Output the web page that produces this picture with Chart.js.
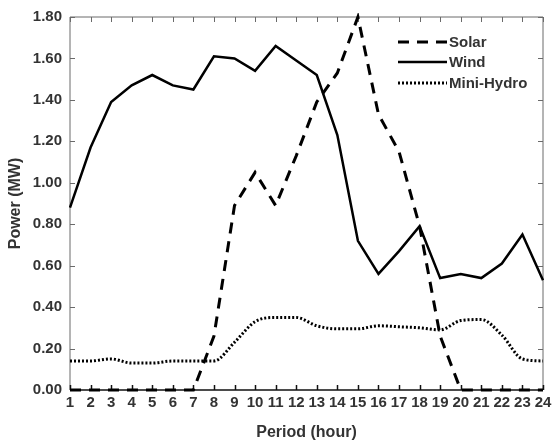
<!DOCTYPE html>
<html>
<head>
<meta charset="utf-8">
<script src="https://cdn.jsdelivr.net/npm/chart.js@4.4.1/dist/chart.umd.min.js"></script>
<style>
  html, body { margin: 0; padding: 0; background: #fff; }
  #wrap { width: 558px; height: 445px; position: relative; }
</style>
</head>
<body>
<div id="wrap"><canvas id="chart"></canvas></div>
<script>
// hourly periods
const periods = ['1','2','3','4','5','6','7','8','9','10','11','12','13','14','15','16','17','18','19','20','21','22','23','24'];

// power output (MW)
const solar = [0, 0, 0, 0, 0, 0, 0, 0.26, 0.89, 1.05, 0.89, 1.13, 1.39, 1.53, 1.80, 1.33, 1.15, 0.79, 0.26, 0, 0, 0, 0, 0];
const wind = [0.88, 1.17, 1.39, 1.47, 1.52, 1.47, 1.45, 1.61, 1.60, 1.54, 1.66, 1.59, 1.52, 1.23, 0.72, 0.56, 0.67, 0.79, 0.54, 0.56, 0.54, 0.61, 0.75, 0.53];
const miniHydro = [0.14, 0.14, 0.15, 0.13, 0.13, 0.14, 0.14, 0.14, 0.23, 0.33, 0.35, 0.35, 0.31, 0.295, 0.295, 0.31, 0.305, 0.30, 0.29, 0.335, 0.34, 0.265, 0.15, 0.14];

const FONT = 'Liberation Sans, Arial, sans-serif';
const TEXT = '#333';

// frame + inward tick marks on all four sides
const frameTicks = {
  id: 'frameTicks',
  beforeDatasetsDraw(chart) {
    const { ctx, chartArea: a, scales: { x, y } } = chart;
    const len = 5;
    ctx.save();
    ctx.lineWidth = 1;
    ctx.strokeStyle = '#6a6a6a';
    ctx.beginPath();
    ctx.moveTo(a.left, a.bottom);
    ctx.lineTo(a.left, a.top);
    ctx.lineTo(a.right, a.top);
    ctx.lineTo(a.right, a.bottom);
    x.ticks.forEach((t, i) => {
      const px = Math.round(x.getPixelForTick(i)) + 0.5;
      ctx.moveTo(px, a.top); ctx.lineTo(px, a.top + len);
    });
    y.ticks.forEach((t, i) => {
      const py = Math.round(y.getPixelForTick(i)) + 0.5;
      ctx.moveTo(a.right, py); ctx.lineTo(a.right - len, py);
      ctx.moveTo(a.left, py); ctx.lineTo(a.left + len, py);
    });
    ctx.stroke();
    // bottom axis darker
    ctx.strokeStyle = '#111';
    ctx.lineWidth = 1.5;
    ctx.beginPath();
    ctx.moveTo(a.left, a.bottom);
    ctx.lineTo(a.right, a.bottom);
    x.ticks.forEach((t, i) => {
      const px = Math.round(x.getPixelForTick(i)) + 0.5;
      ctx.moveTo(px, a.bottom); ctx.lineTo(px, a.bottom - len);
    });
    ctx.stroke();
    ctx.restore();
  }
};

// legend in the upper right of the plot
const insideLegend = {
  id: 'insideLegend',
  afterDraw(chart) {
    const { ctx, chartArea: a } = chart;
    const x0 = a.right - 145, x1 = a.right - 96;
    const rows = [25, 45, 66];
    ctx.save();
    ctx.font = 'bold 15px ' + FONT;
    ctx.textBaseline = 'middle';
    ctx.fillStyle = TEXT;
    chart.data.datasets.forEach((ds, i) => {
      const yy = a.top + rows[i];
      ctx.strokeStyle = ds.borderColor;
      ctx.lineWidth = ds.borderWidth;
      ctx.setLineDash(ds.borderDash || []);
      ctx.beginPath();
      ctx.moveTo(x0, yy);
      ctx.lineTo(x1, yy);
      ctx.stroke();
      ctx.setLineDash([]);
      ctx.fillText(ds.label, x1 + 2, yy + 1);
    });
    ctx.restore();
  }
};

new Chart(document.getElementById('chart'), {
  type: 'line',
  data: {
    labels: periods,
    datasets: [
      {
        label: 'Solar',
        data: solar,
        borderColor: '#000',
        borderWidth: 3,
        borderDash: [11, 8],
        pointRadius: 0,
        tension: 0,
        clip: 4
      },
      {
        label: 'Wind',
        data: wind,
        borderColor: '#000',
        borderWidth: 2.5,
        pointRadius: 0,
        tension: 0
      },
      {
        label: 'Mini-Hydro',
        data: miniHydro,
        borderColor: '#000',
        borderWidth: 3,
        borderDash: [2, 2],
        pointRadius: 0,
        cubicInterpolationMode: 'monotone'
      }
    ]
  },
  options: {
    responsive: true,
    maintainAspectRatio: false,
    animation: false,
    layout: { padding: { top: 14, right: 15, left: 0, bottom: 0 } },
    plugins: {
      legend: { display: false },
      tooltip: { enabled: false }
    },
    scales: {
      x: {
        offset: false,
        grid: { display: false, drawTicks: false },
        border: { display: false },
        ticks: {
          autoSkip: false,
          maxRotation: 0,
          padding: 4,
          color: TEXT,
          font: { family: FONT, size: 15, weight: 'bold' }
        },
        title: {
          display: true,
          text: 'Period (hour)',
          color: TEXT,
          padding: { top: 0, bottom: 3 },
          font: { family: FONT, size: 16, weight: 'bold' }
        },
        afterFit: (s) => { s.height = 55; }
      },
      y: {
        min: 0,
        max: 1.8,
        grid: { display: false, drawTicks: false },
        border: { display: false },
        ticks: {
          stepSize: 0.2,
          padding: 8,
          color: TEXT,
          font: { family: FONT, size: 15, weight: 'bold' },
          callback: (v) => Number(v).toFixed(2)
        },
        title: {
          display: true,
          text: 'Power (MW)',
          color: TEXT,
          padding: { top: 6, bottom: 0 },
          font: { family: FONT, size: 16, weight: 'bold' }
        },
        afterFit: (s) => { s.width = 70; }
      }
    }
  },
  plugins: [frameTicks, insideLegend]
});
</script>
</body>
</html>
